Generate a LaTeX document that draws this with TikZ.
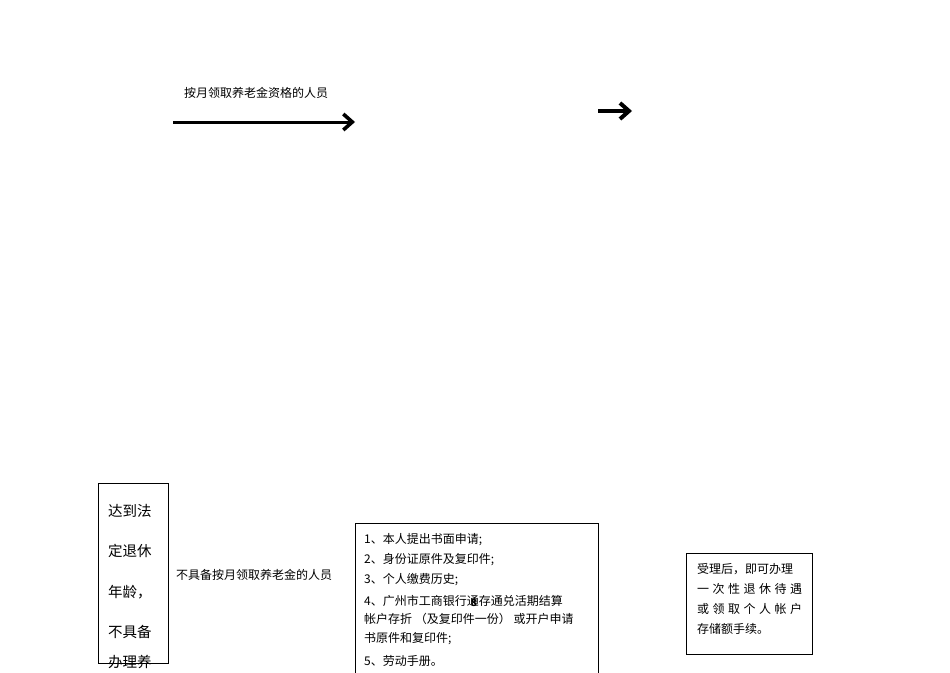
\documentclass[tikz,border=0pt]{standalone}
\usepackage{fontspec}
\setmainfont{Noto Sans CJK SC}
\usetikzlibrary{arrows.meta}
\begin{document}
\begin{tikzpicture}[x=1pt,y=-1pt,
  lbl/.style={anchor=west,inner sep=0pt,font=\fontsize{12}{14}\selectfont},
  bigl/.style={anchor=west,inner sep=0pt,font=\fontsize{14.5}{16}\selectfont},
  boxl/.style={draw,line width=0.8pt},
  thickarrow/.style={line width=3pt,-{Straight Barb[length=9pt,width=16pt,line width=3.6pt]}},
  boldarrow/.style={line width=3.6pt,-{Straight Barb[length=9pt,width=16pt,line width=4pt]}}]
\useasboundingbox (0,0) rectangle (950,672);
% top label and arrows
\node[lbl] (t1) at (184,93) {按月领取养老金资格的人员};
\coordinate (a1s) at (173,122);
\coordinate (a1e) at (355,122);
\draw[thickarrow] (a1s) -- (a1e);
\coordinate (a2s) at (598,111);
\coordinate (a2e) at (632,111);
\draw[boldarrow] (a2s) -- (a2e);
% box 1
\node[boxl,minimum width=70pt,minimum height=180pt,inner sep=0pt] (b1) at (133,573) {};
\node[bigl] (b1l1) at (108,511) {达到法};
\node[bigl] (b1l2) at (108,551) {定退休};
\node[bigl] (b1l3) at (108,592) {年龄，};
\node[bigl] (b1l4) at (108,632) {不具备};
\node[bigl] (b1l5) at (108,662) {办理养};
% middle label
\node[lbl] (m1) at (176,575) {不具备按月领取养老金的人员};
% box 2
\draw[boxl] (355,690) -- (355,523) -- (598,523) -- (598,690);
\coordinate (b2) at (355,523);
\node[lbl] (r1) at (364,540) {1、本人提出书面申请;};
\node[lbl] (r2) at (364,560) {2、身份证原件及复印件;};
\node[lbl] (r3) at (364,580) {3、个人缴费历史;};
\node[lbl] (r4) at (364,601) {4、广州市工商银行通存通兑活期结算};
\node[anchor=center,inner sep=0pt,font=\fontsize{10}{12}\selectfont\bfseries] (r4x) at (474,603) {8};
\node[lbl] (r5) at (364,619) {帐户存折 （及复印件一份） 或开户申请};
\node[lbl] (r6) at (364,639) {书原件和复印件;};
\node[lbl] (r7) at (364,661) {5、劳动手册。};
% box 3
\node[boxl,minimum width=126pt,minimum height=101pt,inner sep=0pt] (b3) at (749,603.5) {};
\node[lbl] (s1) at (697,569) {受理后，即可办理};
\node[lbl] (s2) at (697,589) {\makebox[105pt][s]{一\hfill 次\hfill 性\hfill 退\hfill 休\hfill 待\hfill 遇}};
\node[lbl] (s3) at (697,609) {\makebox[105pt][s]{或\hfill 领\hfill 取\hfill 个\hfill 人\hfill 帐\hfill 户}};
\node[lbl] (s4) at (697,629) {存储额手续。};
\end{tikzpicture}
\end{document}
